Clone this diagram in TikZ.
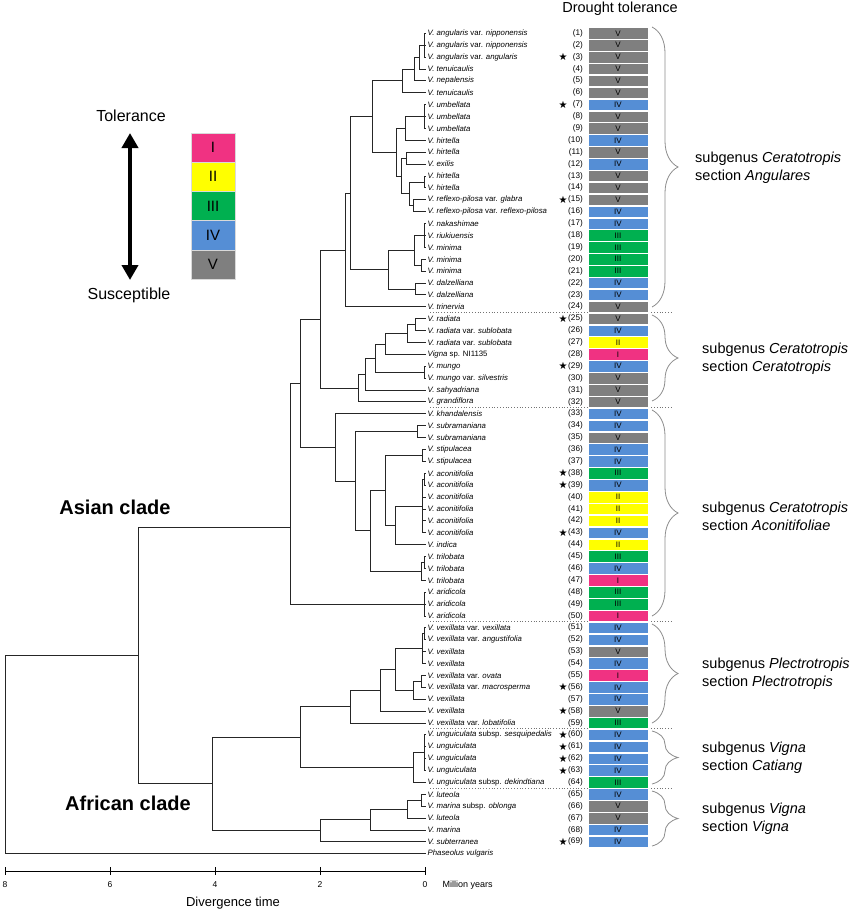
\documentclass[tikz,border=0pt]{standalone}
\usepackage{fontspec}
\setmainfont{Liberation Sans}
\newfontfamily\symfont{DejaVu Sans}
\usetikzlibrary{calc,arrows.meta,decorations.pathreplacing}

\definecolor{cI}{HTML}{F03282}
\definecolor{cII}{HTML}{FFFF00}
\definecolor{cIII}{HTML}{00B050}
\definecolor{cIV}{HTML}{558ED5}
\definecolor{cV}{HTML}{7F7F7F}

\newcommand{\vr}{\textup{var.}}
\newcommand{\ssp}{\textup{subsp.}}

% one junction of the tree: name, x, first child, last child
\newcommand{\clade}[4]{%
  \path ($(#3)!.5!(#4)$) coordinate (#1m) (#2,0) coordinate (#1x);
  \coordinate (#1) at (#1m -| #1x);
  \draw[branch] (#1) |- (#3) (#1) |- (#4);}

\begin{document}
\begin{tikzpicture}[x=1pt,y=-1pt,
  branch/.style={draw=black!85,line width=0.8pt},
  taxon/.style={anchor=west,inner sep=1.5pt,font=\fontsize{7.8}{8}\selectfont\itshape},
  numlbl/.style={anchor=east,inner sep=0pt,font=\fontsize{8.2}{9}\selectfont},
  starlbl/.style={inner sep=0pt,font=\symfont\fontsize{10}{10}\selectfont},
  tolbox/.style={draw=white,line width=0.5pt,minimum width=60pt,minimum height=11.5pt,inner sep=0pt,font=\fontsize{8}{8}\selectfont},
  legbox/.style={draw=white!85!black,line width=0.5pt,minimum width=44pt,minimum height=29.2pt,inner sep=0pt,font=\fontsize{15}{15}\selectfont},
  section/.style={anchor=west,align=left,inner sep=0pt,font=\fontsize{14.5}{18}\selectfont},
  bracket/.style={draw=black!45,line width=0.8pt,decorate,decoration={brace,amplitude=26pt}},
  sep/.style={draw=black!55,dotted,line width=0.8pt},
  cladelbl/.style={font=\fontsize{20}{20}\selectfont\bfseries}]
\useasboundingbox (0,0) rectangle (856,914);

% tips
\foreach \i in {1,...,70}
  \coordinate (t\i) at (426,{21.41+\i*11.89});

% separators between sections
\foreach \k in {24,32,50,59,64}
  \draw[sep] (430,{21.41+(\k+0.5)*11.89}) -- (673,{21.41+(\k+0.5)*11.89});

% taxa, tolerance classes and stars
\foreach \i/\nm/\tl/\st in {
  1/{V. angularis \vr{} nipponensis}/V/0,
  2/{V. angularis \vr{} nipponensis}/V/0,
  3/{V. angularis \vr{} angularis}/V/1,
  4/{V. tenuicaulis}/V/0,
  5/{V. nepalensis}/V/0,
  6/{V. tenuicaulis}/V/0,
  7/{V. umbellata}/IV/1,
  8/{V. umbellata}/V/0,
  9/{V. umbellata}/V/0,
  10/{V. hirtella}/IV/0,
  11/{V. hirtella}/V/0,
  12/{V. exilis}/IV/0,
  13/{V. hirtella}/V/0,
  14/{V. hirtella}/V/0,
  15/{V. reflexo-pilosa \vr{} glabra}/V/1,
  16/{V. reflexo-pilosa \vr{} reflexo-pilosa}/IV/0,
  17/{V. nakashimae}/IV/0,
  18/{V. riukiuensis}/III/0,
  19/{V. minima}/III/0,
  20/{V. minima}/III/0,
  21/{V. minima}/III/0,
  22/{V. dalzelliana}/IV/0,
  23/{V. dalzelliana}/IV/0,
  24/{V. trinervia}/V/0,
  25/{V. radiata}/V/1,
  26/{V. radiata \vr{} sublobata}/IV/0,
  27/{V. radiata \vr{} sublobata}/II/0,
  28/{Vigna \textup{sp. NI1135}}/I/0,
  29/{V. mungo}/IV/1,
  30/{V. mungo \vr{} silvestris}/V/0,
  31/{V. sahyadriana}/V/0,
  32/{V. grandiflora}/V/0,
  33/{V. khandalensis}/IV/0,
  34/{V. subramaniana}/IV/0,
  35/{V. subramaniana}/V/0,
  36/{V. stipulacea}/IV/0,
  37/{V. stipulacea}/IV/0,
  38/{V. aconitifolia}/III/1,
  39/{V. aconitifolia}/IV/1,
  40/{V. aconitifolia}/II/0,
  41/{V. aconitifolia}/II/0,
  42/{V. aconitifolia}/II/0,
  43/{V. aconitifolia}/IV/1,
  44/{V. indica}/II/0,
  45/{V. trilobata}/III/0,
  46/{V. trilobata}/IV/0,
  47/{V. trilobata}/I/0,
  48/{V. aridicola}/III/0,
  49/{V. aridicola}/III/0,
  50/{V. aridicola}/I/0,
  51/{V. vexillata \vr{} vexillata}/IV/0,
  52/{V. vexillata \vr{} angustifolia}/IV/0,
  53/{V. vexillata}/V/0,
  54/{V. vexillata}/IV/0,
  55/{V. vexillata \vr{} ovata}/I/0,
  56/{V. vexillata \vr{} macrosperma}/IV/1,
  57/{V. vexillata}/IV/0,
  58/{V. vexillata}/V/1,
  59/{V. vexillata \vr{} lobatifolia}/III/0,
  60/{V. unguiculata \ssp{} sesquipedalis}/IV/1,
  61/{V. unguiculata}/IV/1,
  62/{V. unguiculata}/IV/1,
  63/{V. unguiculata}/IV/1,
  64/{V. unguiculata \ssp{} dekindtiana}/III/0,
  65/{V. luteola}/IV/0,
  66/{V. marina \ssp{} oblonga}/V/0,
  67/{V. luteola}/V/0,
  68/{V. marina}/IV/0,
  69/{V. subterranea}/IV/1}
{
  \node[taxon] (l\i) at (t\i) {\nm};
  \node[numlbl] (n\i) at (583,{21.41+\i*11.89}) {(\i)};
  \node[tolbox,fill=c\tl] (b\i) at (618,{21.41+\i*11.89}) {\tl};
  \ifnum\st=1 \node[starlbl] (s\i) at (563,{21.41+\i*11.89}) {★};\fi
}
\node[taxon] (l70) at (t70) {Phaseolus vulgaris};

% section Angulares
\clade{an1}{424}{t1}{t3} \draw[branch] (an1) |- (t2);
\clade{an2}{419}{an1}{t4}
\clade{an3}{414}{an2}{t5}
\clade{an4}{402}{an3}{t6}
\clade{um1}{424}{t7}{t9} \draw[branch] (um1) |- (t8);
\clade{um2}{405}{um1}{t10}
\clade{um3}{406}{t11}{t12}
\clade{hi1}{424}{t13}{t14}
\clade{rp1}{413}{t15}{t16}
\clade{hi2}{409}{hi1}{rp1}
\clade{um4}{401}{um3}{hi2}
\clade{um5}{396}{um2}{um4}
\clade{mi1}{424}{t17}{t19} \draw[branch] (mi1) |- (t18);
\clade{mi2}{421}{t20}{t21}
\clade{mi3}{414}{mi1}{mi2}
\clade{da1}{415}{t22}{t23}
\clade{mi4}{388}{mi3}{da1}
\clade{ag1}{372}{an4}{um5}
\clade{ag2}{350}{ag1}{mi4}
\clade{ag3}{345}{ag2}{t24}
% section Ceratotropis
\clade{ra1}{415}{t25}{t26}
\clade{ra2}{407}{ra1}{t27}
\clade{ra3}{385}{ra2}{t28}
\clade{mu1}{424}{t29}{t30}
\clade{ce1}{375}{ra3}{mu1}
\clade{ce2}{365}{ce1}{t31}
\clade{ce3}{358}{ce2}{t32}
\clade{cer}{320}{ag3}{ce3}
% section Aconitifoliae
\clade{su1}{417}{t34}{t35}
\clade{st1}{422}{t36}{t37}
\clade{ac1}{424}{t38}{t39}
\clade{ac2}{422}{ac1}{t43} \draw[branch] (ac2) |- (t40) (ac2) |- (t41) (ac2) |- (t42);
\clade{ac3}{395}{ac2}{t44}
\clade{tr1}{424}{t45}{t46}
\clade{tr2}{421}{tr1}{t47}
\clade{ar1}{424}{t48}{t50} \draw[branch] (ar1) |- (t49);
\clade{ac4}{385}{st1}{ac3}
\clade{ac5}{370}{ac4}{tr2}
\clade{ac6}{355}{su1}{ac5}
\clade{ac7}{335}{t33}{ac6}
\clade{as1}{300}{cer}{ac7}
% crown of the Asian clade
\coordinate (asia) at (290,527);
\draw[branch] (asia) |- (as1) (asia) |- (ar1);
% African clade
\clade{pl1}{424}{t51}{t52}
\clade{pl2}{422}{pl1}{t54} \draw[branch] (pl2) |- (t53);
\clade{pl3}{421}{t55}{t56}
\clade{pl4}{413}{pl3}{t57}
\clade{pl5}{395}{pl2}{pl4}
\clade{pl6}{380}{pl5}{t58}
\clade{pl7}{350}{pl6}{t59}
\clade{ca1}{424}{t60}{t63} \draw[branch] (ca1) |- (t61) (ca1) |- (t62);
\clade{ca2}{413}{ca1}{t64}
\clade{afu}{300}{pl7}{ca2}
\clade{vi1}{421}{t65}{t66}
\clade{vi2}{407}{vi1}{t67}
\clade{vi3}{370}{vi2}{t68}
\clade{vi4}{320}{vi3}{t69}
\clade{afr}{212}{afu}{vi4}
\clade{vig}{138}{asia}{afr}
\clade{root}{5}{vig}{t70}

\node[cladelbl] (asian) at (115,507) {Asian clade};
\node[cladelbl] (african) at (128,803) {African clade};

% brackets and sections
\draw[bracket] (652,27) -- (652,307);
\draw[bracket] (652,315) -- (652,401);
\draw[bracket] (652,410) -- (652,616);
\draw[bracket] (652,624) -- (652,723);
\draw[bracket] (652,731) -- (652,784);
\draw[bracket] (652,791) -- (652,846);
\node[section] (sec1) at (695,168) {subgenus \textit{Ceratotropis}\\section \textit{Angulares}};
\node[section] (sec2) at (702,359) {subgenus \textit{Ceratotropis}\\section \textit{Ceratotropis}};
\node[section] (sec3) at (702,516) {subgenus \textit{Ceratotropis}\\section \textit{Aconitifoliae}};
\node[section] (sec4) at (702,674) {subgenus \textit{Plectrotropis}\\section \textit{Plectrotropis}};
\node[section] (sec5) at (702,758) {subgenus \textit{Vigna}\\section \textit{Catiang}};
\node[section] (sec6) at (702,819) {subgenus \textit{Vigna}\\section \textit{Vigna}};

\node[font=\fontsize{14.5}{15}\selectfont] (head) at (620,9) {Drought tolerance};

% legend
\node[font=\fontsize{16}{16}\selectfont] (tol) at (131,116) {Tolerance};
\node[font=\fontsize{16}{16}\selectfont] (sus) at (129,295) {Susceptible};
\coordinate (arT) at (130,133);
\coordinate (arB) at (130,280);
\draw[line width=4pt,{Triangle[width=16pt,length=15pt]}-{Triangle[width=16pt,length=15pt]}] (arT) -- (arB);
\foreach \c [count=\k] in {I,II,III,IV,V}
  \node[legbox,fill=c\c] (leg\c) at (213,{118.4+\k*29.2}) {\c};

% time axis
\coordinate (ax8) at (5,871);
\coordinate (ax0) at (425,871);
\draw[line width=0.8pt] (ax8) -- (ax0);
\foreach \v/\xx in {8/5,6/110,4/215,2/320,0/425} {
  \draw[line width=0.8pt] (\xx,867) -- (\xx,875);
  \node[font=\fontsize{8.5}{9}\selectfont] (tick\v) at (\xx,885) {\v};
}
\node[anchor=west,font=\fontsize{9}{9}\selectfont] (myr) at (439,885) {Million years};
\node[font=\fontsize{13}{13}\selectfont] (divt) at (233,903) {Divergence time};
\end{tikzpicture}
\end{document}
